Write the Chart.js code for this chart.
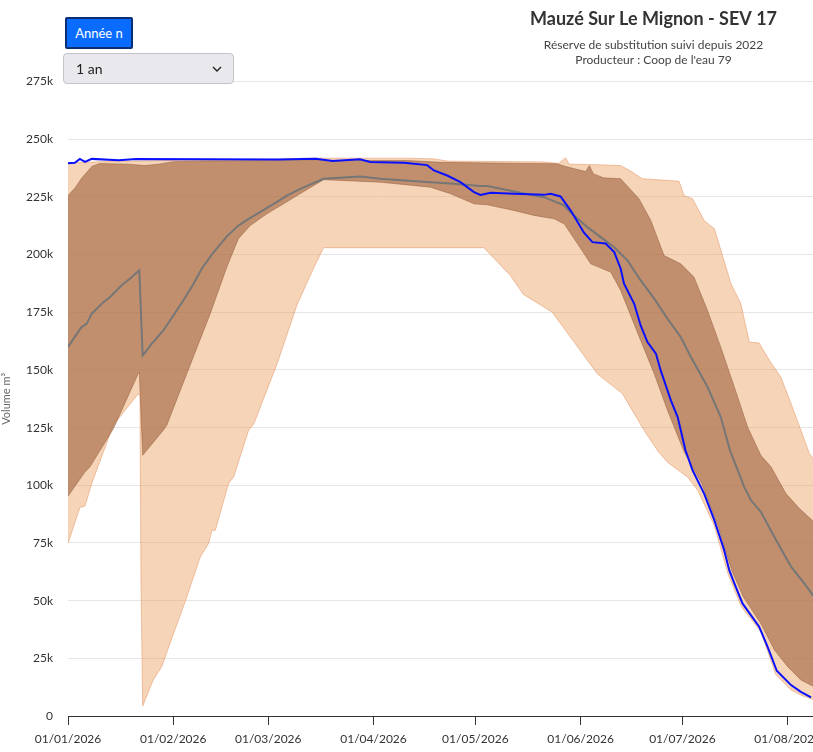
<!DOCTYPE html>
<html lang="fr">
<head>
<meta charset="utf-8">
<title>Mauzé Sur Le Mignon - SEV 17</title>
<script src="https://cdn.jsdelivr.net/npm/chart.js@4.4.1/dist/chart.umd.min.js"></script>
<style>
  html, body { margin: 0; padding: 0; overflow: hidden; background: #fff; }
  #wrap { position: relative; width: 1310px; height: 752px; }
  #btn-annee {
    position: absolute; left: 65px; top: 17px; width: 68px; height: 32px;
    background: #0a6cff; color: #fff; border: 2px solid #0b2f73; border-radius: 2px;
    font: 13px Lato, sans-serif; padding: 0; cursor: pointer;
  }
  #sel-periode {
    position: absolute; left: 63px; top: 53px; width: 171px; height: 31px;
    -webkit-appearance: none; appearance: none;
    background: #e9e9ed url("data:image/svg+xml;utf8,<svg xmlns='http://www.w3.org/2000/svg' width='10' height='6'><path d='M1 1l4 4 4-4' fill='none' stroke='%23222' stroke-width='1.4'/></svg>") no-repeat right 11px center;
    border: 1px solid #c4c4c8; border-radius: 4px;
    font: 14px Lato, sans-serif; color: #222; padding: 0 0 0 12px;
  }
</style>
</head>
<body>
<div id="wrap">
  <canvas id="chart-volume"></canvas>
  <button id="btn-annee" type="button">Année n</button>
  <select id="sel-periode"><option>1 an</option><option>2 ans</option></select>
</div>
<script>
// jours depuis le 01/01 et volumes (m3)
const currentDays = [0, 2, 3.5, 5, 7, 15, 20, 62, 73, 78, 86, 89, 99, 105.8, 107.8, 111.7, 115.6, 119.6, 121.5, 124.5, 131.4, 140.2, 142.2, 145.1, 148.1, 152, 154.5, 158.4, 160.9, 162.8, 163.8, 166.8, 168.7, 170.7, 173.2, 174.6, 177.6, 179.6, 181.9, 184, 187.4, 190.4, 193.3, 194.8, 196.3, 198.7, 203.6, 206.1, 208.8, 213, 215.9, 218.9];
const currentVol = [239600, 239800, 241500, 240200, 241500, 240900, 241500, 241200, 241600, 240600, 241300, 240200, 239800, 238800, 236500, 234300, 231400, 227100, 225900, 226800, 226400, 225900, 226400, 225200, 219100, 209500, 205400, 204800, 201100, 194000, 187400, 178700, 169300, 162100, 157100, 149800, 136800, 129600, 115200, 106500, 96400, 84900, 71900, 63200, 57500, 48800, 38700, 30000, 19600, 13400, 10500, 8100];

const medianDays = [0, 4, 5.5, 7, 10.4, 12.4, 15.8, 18.3, 21, 22, 24.7, 28.1, 31.1, 34, 37, 39.4, 42.4, 46.8, 50.2, 53.2, 55.7, 60.6, 64.5, 68.4, 75.3, 86.1, 92, 106.8, 113.7, 121.5, 123.5, 133.3, 140.2, 146, 148.5, 153, 156.9, 160.9, 164.8, 168.7, 172.7, 176.6, 180.5, 183.5, 188.4, 192.3, 195, 199.2, 201.2, 204.1, 208.1, 213, 216.9, 219.8, 223];
const medianVol = [160000, 168600, 170000, 174400, 179400, 181600, 186700, 189600, 193200, 156300, 161400, 167200, 173700, 180200, 187400, 193900, 200100, 207900, 212600, 215500, 217700, 222000, 225600, 228500, 232900, 233900, 232900, 231400, 230700, 229700, 229700, 226800, 224900, 221500, 217700, 211900, 207600, 203200, 197500, 188800, 180900, 172200, 164300, 155600, 142600, 129600, 115200, 99300, 93500, 88500, 77600, 64700, 57500, 51700, 47500];

const q3Days = [0, 2.1, 4.1, 7.1, 9.4, 18, 22.7, 27.1, 31, 40, 60, 100, 110, 130, 144, 146.6, 152.5, 153.6, 154.8, 157.8, 162.8, 168.2, 171.7, 175.6, 180.5, 184.4, 188.4, 192.3, 196.3, 200.2, 204.1, 207.1, 211.5, 215.5, 219.8, 223];
const q3Vol = [225600, 229000, 233300, 238300, 239500, 239200, 238600, 239300, 240300, 240600, 240800, 240800, 240000, 239600, 239400, 238200, 236000, 238600, 235000, 233300, 232900, 224200, 214800, 199600, 196000, 190300, 175800, 159900, 142600, 125300, 113000, 108000, 96400, 89900, 84100, 81000];

const q1Days = [0, 5, 6.5, 13.4, 20.7, 21, 22, 28.1, 29.1, 35, 41.9, 46.8, 50.2, 53.7, 58.6, 63.5, 68.4, 75.3, 92, 106.8, 112.7, 119.6, 123.5, 131.4, 137.3, 143.2, 146.2, 150.1, 154, 159.9, 162.8, 168.7, 172.7, 176.6, 181.5, 186.7, 191.6, 195.5, 198.9, 204.1, 208.1, 212, 215.9, 219.8, 223];
const q1Vol = [95300, 105800, 108000, 124600, 148400, 149100, 113000, 123900, 126000, 148400, 174400, 194600, 206900, 212600, 217700, 222000, 226400, 232500, 231400, 229200, 226400, 222000, 221600, 219100, 217000, 215500, 213300, 204700, 196000, 192400, 184500, 162800, 148400, 132500, 114500, 100800, 82000, 63200, 51700, 40100, 28600, 21400, 15600, 12700, 11000];

const maxDays = [0, 5, 10, 30, 60, 70, 100, 108, 112, 140, 144.5, 146.6, 147.6, 155, 162.8, 165.8, 169.2, 180, 181.5, 184, 187.4, 190.4, 192.8, 195.3, 198.2, 200.7, 203.6, 206.6, 210, 213, 215.9, 218.4, 219.8, 223];
const maxVol = [239800, 240000, 240300, 240800, 241300, 241800, 241800, 241500, 240500, 240200, 239500, 242000, 239200, 239000, 238600, 236200, 232900, 231800, 225600, 224200, 214800, 211200, 199600, 187400, 178700, 162100, 161700, 154200, 146900, 135400, 123900, 113800, 110900, 106000];

const minDays = [0, 3.5, 5, 7, 13.3, 20.6, 21.2, 21.5, 22, 25.1, 27.6, 31.1, 34.5, 39, 41.4, 42.4, 43.4, 47.3, 48.8, 53.2, 54.7, 61.6, 67.5, 72.5, 75.3, 122.5, 130.3, 134.2, 142.6, 148, 155.9, 163.3, 169.7, 173.6, 176.6, 182.5, 185.5, 190.4, 194.4, 198.3, 204.1, 208.5, 213, 216, 219.8, 223];
const minVol = [74800, 90400, 91000, 100800, 126000, 139500, 139000, 60000, 4300, 15600, 21400, 35800, 49500, 69000, 74800, 80500, 80500, 100800, 103600, 123900, 126500, 152700, 178400, 194600, 203000, 203000, 191000, 182700, 175100, 164300, 148400, 139800, 123900, 115200, 110000, 103600, 97900, 82500, 61800, 47500, 36500, 18000, 11300, 9000, 7000, 5500];

// axe des dates : premier jour de chaque mois
const tickDays = [0, 31, 59, 90, 120, 151, 181, 212, 243, 273, 304, 334];
const tickLabels = ['01/01/2026', '01/02/2026', '01/03/2026', '01/04/2026', '01/05/2026', '01/06/2026',
  '01/07/2026', '01/08/2026', '01/09/2026', '01/10/2026', '01/11/2026', '01/12/2026'];

const FONT = 'Lato, "Noto Sans", sans-serif';
const toPoints = (days, vals) => days.map((d, i) => ({ x: d, y: vals[i] }));

new Chart(document.getElementById('chart-volume'), {
  type: 'line',
  data: {
    datasets: [
      { label: 'Année n', data: toPoints(currentDays, currentVol), borderColor: '#0a10ff', borderWidth: 2, fill: false },
      { label: 'Médiane', data: toPoints(medianDays, medianVol), borderColor: '#767676', borderWidth: 2, fill: false },
      { label: 'Quartile haut', data: toPoints(q3Days, q3Vol), borderColor: 'rgba(140,85,50,0.45)', borderWidth: 1, fill: false },
      { label: 'Quartile bas', data: toPoints(q1Days, q1Vol), borderColor: 'rgba(140,85,50,0.45)', borderWidth: 1,
        fill: '-1', backgroundColor: 'rgba(158,99,61,0.6)' },
      { label: 'Max', data: toPoints(maxDays, maxVol), borderColor: 'rgba(230,150,100,0.55)', borderWidth: 1, fill: false },
      { label: 'Min', data: toPoints(minDays, minVol), borderColor: 'rgba(230,150,100,0.55)', borderWidth: 1,
        fill: '-1', backgroundColor: 'rgba(236,160,97,0.45)' },
    ],
  },
  options: {
    responsive: true,
    maintainAspectRatio: false,
    animation: false,
    layout: { padding: { left: 0, right: 3, top: 0, bottom: 0 } },
    elements: { point: { radius: 0 }, line: { tension: 0 } },
    plugins: {
      legend: { display: false },
      tooltip: { enabled: false },
      title: {
        display: true,
        text: 'Mauzé Sur Le Mignon - SEV 17',
        color: '#333',
        font: { family: FONT, size: 18, weight: 'bold' },
        padding: { top: 8, bottom: 8 },
      },
      subtitle: {
        display: true,
        text: ['Réserve de substitution suivi depuis 2022', "Producteur : Coop de l'eau 79"],
        color: '#444',
        font: { family: FONT, size: 12, lineHeight: 1.25 },
        padding: { top: 0, bottom: 14 },
      },
    },
    scales: {
      x: {
        type: 'linear',
        min: 0,
        max: 365,
        afterBuildTicks: (axis) => { axis.ticks = tickDays.map((d) => ({ value: d })); },
        afterFit: (axis) => { axis.height = 36; },
        ticks: {
          autoSkip: false,
          maxRotation: 0,
          padding: 7,
          color: '#333',
          font: { family: FONT, size: 12 },
          callback: (v, i) => tickLabels[i],
        },
        grid: { drawOnChartArea: false, color: '#333', tickLength: 9 },
        border: { color: '#333' },
      },
      y: {
        min: 0,
        max: 275000,
        afterFit: (axis) => { axis.width = 68; },
        ticks: {
          stepSize: 25000,
          padding: 15,
          color: '#333',
          font: { family: FONT, size: 12 },
          callback: (v) => (v === 0 ? '0' : v / 1000 + 'k'),
        },
        grid: { color: '#e6e6e6', drawTicks: false },
        border: { display: false },
        title: { display: true, text: 'Volume m³', color: '#666', font: { family: FONT, size: 11 }, padding: 0 },
      },
    },
  },
});
</script>
</body>
</html>
